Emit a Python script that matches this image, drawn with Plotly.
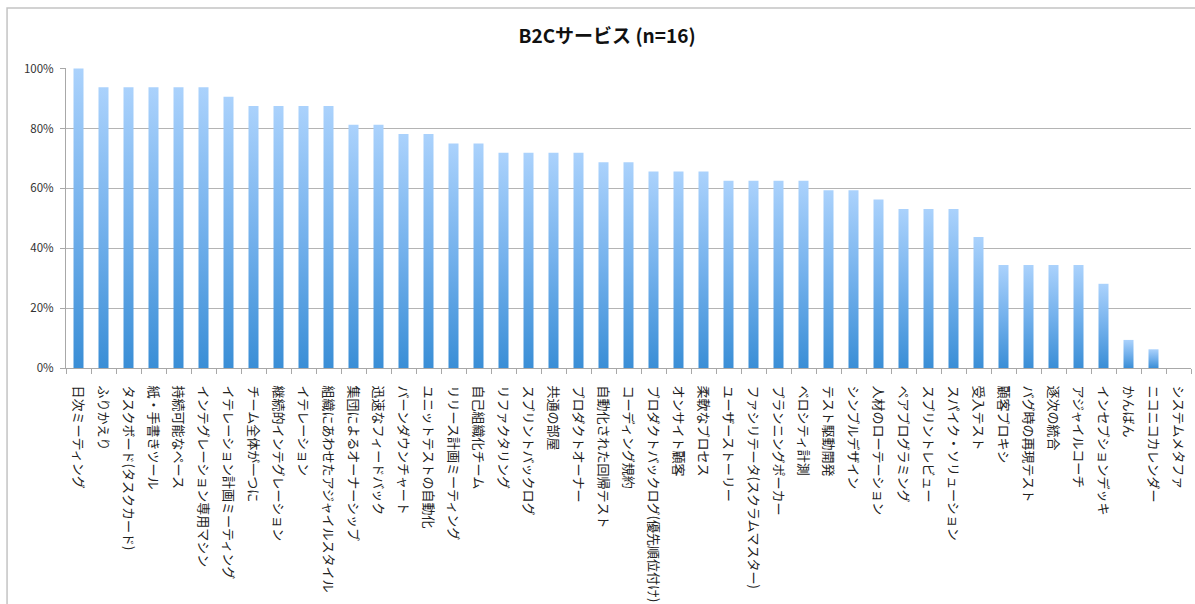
import plotly.graph_objects as go

# Practices and the share of B2C service teams (n=16) using each one, in percent
practices = [
    "日次ミーティング", "ふりかえり", "タスクボード(タスクカード)", "紙・手書きツール",
    "持続可能なペース", "インテグレーション専用マシン", "イテレーション計画ミーティング",
    "チーム全体が一つに", "継続的インテグレーション", "イテレーション",
    "組織にあわせたアジャイルスタイル", "集団によるオーナーシップ", "迅速なフィードバック",
    "バーンダウンチャート", "ユニットテストの自動化", "リリース計画ミーティング",
    "自己組織化チーム", "リファクタリング", "スプリントバックログ", "共通の部屋",
    "プロダクトオーナー", "自動化された回帰テスト", "コーディング規約",
    "プロダクトバックログ(優先順位付け)", "オンサイト顧客", "柔軟なプロセス",
    "ユーザーストーリー", "ファシリテータ(スクラムマスター)", "プランニングポーカー",
    "ベロシティ計測", "テスト駆動開発", "シンプルデザイン", "人材のローテーション",
    "ペアプログラミング", "スプリントレビュー", "スパイク・ソリューション", "受入テスト",
    "顧客プロキシ", "バグ時の再現テスト", "逐次の統合", "アジャイルコーチ",
    "インセプションデッキ", "かんばん", "ニコニコカレンダー", "システムメタファ",
]
usage_pct = [
    100, 93.75, 93.75, 93.75, 93.75, 93.75, 90.625,
    87.5, 87.5, 87.5, 87.5, 81.25, 81.25,
    78.125, 78.125, 75, 75,
    71.875, 71.875, 71.875, 71.875, 68.75, 68.75,
    65.625, 65.625, 65.625,
    62.5, 62.5, 62.5, 62.5, 59.375, 59.375, 56.25,
    53.125, 53.125, 53.125, 43.75,
    34.375, 34.375, 34.375, 34.375,
    28.125, 9.375, 6.25, 0,
]
y_ticks = [0, 20, 40, 60, 80, 100]
title_text = "B2Cサービス (n=16)"

FONT = "Noto Sans CJK JP"
BAR_HALF = 0.2
GRAD = [[0, "#3a8ed6"], [0.5, "#74b1ec"], [1, "#abd2fc"]]

fig = go.Figure()

# each bar is a filled column with its own bottom-to-top gradient
for i, (name, v) in enumerate(zip(practices, usage_pct)):
    fig.add_trace(go.Scatter(
        x=[i - BAR_HALF, i - BAR_HALF, i + BAR_HALF, i + BAR_HALF, i - BAR_HALF],
        y=[0, v, v, 0, 0],
        mode="lines",
        line=dict(width=0, color="rgba(0,0,0,0)"),
        fill="toself",
        fillgradient=dict(type="vertical", colorscale=GRAD),
        name=name,
        hovertemplate=f"{name}: {v:.1f}%<extra></extra>",
        showlegend=False,
    ))

n = len(practices)
fig.update_layout(
    width=1195, height=604,
    margin=dict(l=66, r=4, t=68, b=236),
    paper_bgcolor="white",
    plot_bgcolor="white",
    font=dict(family=FONT, color="#222"),
    title=dict(
        text=f"<b>{title_text}</b>",
        x=0.508, xanchor="center",
        y=1 - 36 / 604, yanchor="middle",
        font=dict(family=FONT, size=19, color="#111"),
    ),
    xaxis=dict(
        range=[-0.5, n - 0.5],
        tickmode="array",
        tickvals=list(range(n)),
        ticktext=practices,
        tickangle=90,
        ticks="outside",
        ticklen=9,
        tickcolor="rgba(0,0,0,0)",
        ticklabelstandoff=5,
        tickfont=dict(size=13, family=FONT, color="#222"),
        automargin=False,
        showgrid=False,
        zeroline=False,
        showline=True,
        linecolor="#a8a8a8",
        linewidth=1,
        minor=dict(
            tickmode="array",
            tickvals=[k - 0.5 for k in range(n + 1)],
            ticks="outside",
            ticklen=5,
            tickcolor="#a8a8a8",
            showgrid=False,
        ),
        fixedrange=True,
    ),
    yaxis=dict(
        range=[0, 100.2],
        tickmode="array",
        tickvals=y_ticks,
        ticktext=[f"{t}%" for t in y_ticks],
        ticks="outside",
        ticklen=5,
        tickcolor="#a8a8a8",
        ticklabelstandoff=4,
        tickfont=dict(size=11.5, family=FONT, color="#333"),
        showgrid=True,
        gridcolor="#b4b4b4",
        gridwidth=1,
        zeroline=False,
        showline=True,
        linecolor="#a8a8a8",
        linewidth=1,
        fixedrange=True,
    ),
    shapes=[
        # outer chart frame
        dict(type="rect", xref="paper", yref="paper",
             x0=-0.0524, x1=1.2, y0=-1.0, y1=1.2,
             line=dict(color="#c4c4c4", width=1.5), fillcolor="rgba(0,0,0,0)",
             layer="below"),
    ],
)

fig.write_html("out.html")
